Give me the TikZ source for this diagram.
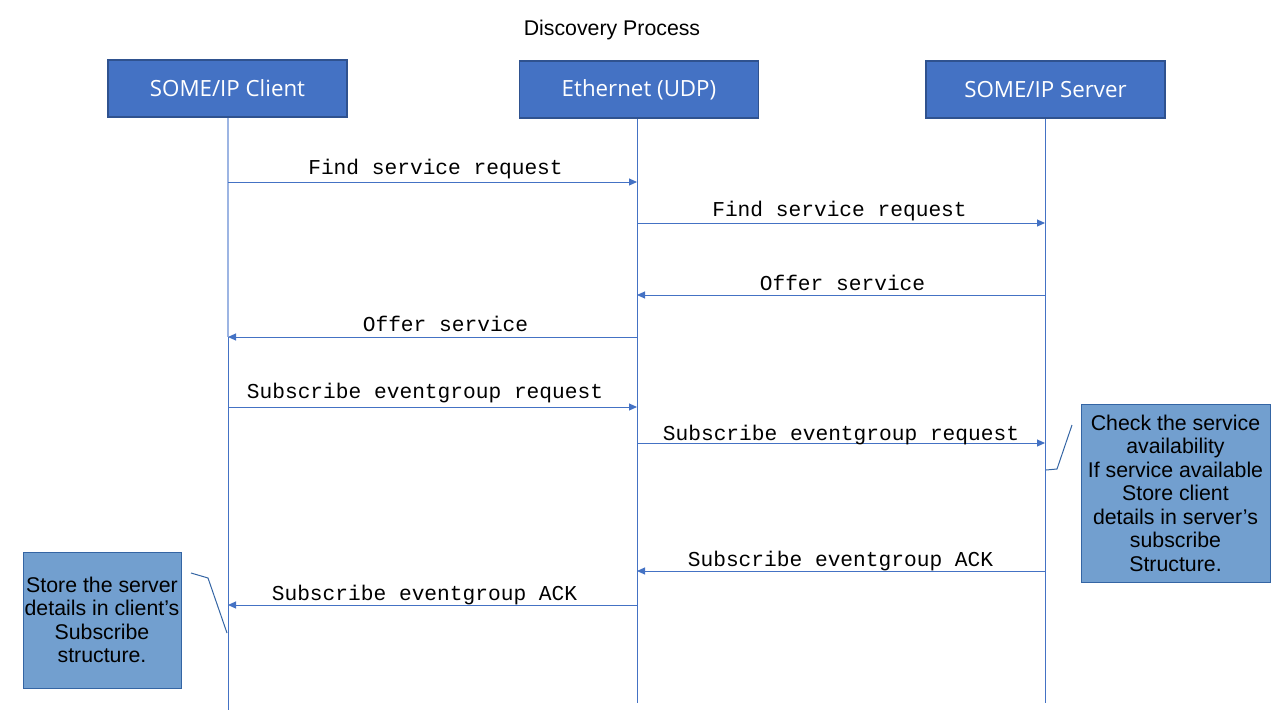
\documentclass[tikz,border=0pt]{standalone}
\usepackage{fontspec}
\setmainfont{Liberation Sans}
\newfontfamily\hdrfont{Open Sans}
\newfontfamily\msgfont{Liberation Mono}
\usetikzlibrary{arrows.meta}
\definecolor{hdrfill}{HTML}{4472C4}
\definecolor{hdrdraw}{HTML}{2F528F}
\definecolor{notefill}{HTML}{729FCF}
\definecolor{notedraw}{HTML}{3465A4}
\definecolor{lineblue}{HTML}{4472C4}
\definecolor{lightline}{HTML}{9DB5E3}
\tikzset{
  hdr/.style={draw=hdrdraw, line width=1.5pt, fill=hdrfill, text=white, font=\hdrfont\fontsize{22.3}{26}\selectfont, minimum width=239pt, minimum height=57pt, inner sep=0pt},
  notebox/.style={draw=notedraw, line width=1pt, fill=notefill, text=black, font=\fontsize{21.3}{23.5}\selectfont, align=center, inner sep=0pt},
  lifeline/.style={draw=lineblue, line width=1pt},
  msg/.style={draw=lineblue, line width=1pt, -{Triangle[length=8pt,width=7pt]}},
  msglabel/.style={font=\msgfont\fontsize{21.2}{24}\selectfont, inner sep=0pt},
  callout/.style={draw=notedraw, line width=1pt},
}
\begin{document}
\begin{tikzpicture}[x=1pt,y=-1pt]
\useasboundingbox (0,0) rectangle (1280,720);
\node[font=\fontsize{21.3}{24}\selectfont] (title) at (612,30) {Discovery Process};
\node[hdr] (client) at (227.5,88.5) {SOME/IP Client};
\node[hdr] (eth) at (639,89.5) {Ethernet (UDP)};
\node[hdr] (server) at (1045.5,89.5) {SOME/IP Server};
% lifelines
\coordinate (cmid) at (228,337);
\coordinate (cend) at (228,710);
\coordinate (eend) at (637,703);
\coordinate (send) at (1045,703);
\draw[draw=lightline, line width=1.3pt] (client.south -| cmid) -- (cmid);
\draw[lifeline] (cmid) -- (cend);
\draw[lifeline] (eth.south -| eend) -- (eend);
\draw[lifeline] (server.south -| send) -- (send);
% message anchor points
\foreach \n/\y in {1/182,2/223,3/295,4/337,5/407,6/443,7/571,8/605}{
  \coordinate (c\n) at (228,\y);
  \coordinate (e\n) at (637,\y);
  \coordinate (s\n) at (1045,\y);
}
\draw[msg] (c1) -- (e1);
\draw[msg] (e2) -- (s2);
\draw[msg] (s3) -- (e3);
\draw[msg] (e4) -- (c4);
\draw[msg] (c5) -- (e5);
\draw[msg] (e6) -- (s6);
\draw[msg] (s7) -- (e7);
\draw[msg] (e8) -- (c8);
\node[msglabel] (l1) at (435.5,169) {Find service request};
\node[msglabel] (l2) at (839.5,211) {Find service request};
\node[msglabel] (l3) at (842.5,283) {Offer service};
\node[msglabel] (l4) at (445.5,324) {Offer service};
\node[msglabel] (l5) at (425,393) {Subscribe eventgroup request};
\node[msglabel] (l6) at (841,435) {Subscribe eventgroup request};
\node[msglabel] (l7) at (840.5,561) {Subscribe eventgroup ACK};
\node[msglabel] (l8) at (424.5,595) {Subscribe eventgroup ACK};
% notes
\node[notebox, minimum width=189pt, minimum height=178pt] (snote) at (1175.5,493) {Check the service\\availability\\If service available\\Store client\\details in server’s\\subscribe\\Structure.};
\node[notebox, minimum width=158pt, minimum height=136pt] (cnote) at (102,620) {Store the server\\details in client’s\\Subscribe\\structure.};
% callouts
\coordinate (sc1) at (1072,425);
\coordinate (sc2) at (1057,469);
\coordinate (sc3) at (1046,470);
\draw[callout] (sc1) -- (sc2) -- (sc3);
\coordinate (cc1) at (191,573);
\coordinate (cc2) at (208,578);
\coordinate (cc3) at (227,633);
\draw[callout] (cc1) -- (cc2) -- (cc3);
\end{tikzpicture}
\end{document}
